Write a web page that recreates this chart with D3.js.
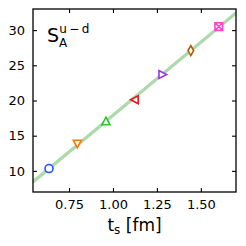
<!DOCTYPE html>
<html>
<head>
<meta charset="utf-8">
<script src="https://cdn.jsdelivr.net/npm/d3@7"></script>
<style>
body { margin:0; background:#fff; }
text { font-family: "DejaVu Sans", sans-serif; }
</style>
</head>
<body>
<div id="chart-area"></div>
<script>
// data
var ts = [0.636, 0.797, 0.960, 1.125, 1.280, 1.443, 1.602];
var sVal = [10.33, 13.9, 17.0, 20.1, 23.7, 27.1, 30.5];
var shapes = ["circle", "tri-down", "tri-up", "tri-left", "tri-right", "diamond", "xsquare"];
var colors = ["#1f4fff", "#ff7700", "#22cc22", "#ee1111", "#9933ee", "#b35a00", "#ff44cc"];
var fitX = [0.545, 1.70];
var fitY = [8.43, 32.45];
var xTicks = [0.75, 1.00, 1.25, 1.50];
var yTicks = [10, 15, 20, 25, 30];

var margin = { left:33, right:10, top:9, bottom:54 };
var width = 246 - margin.left - margin.right,
    height = 246 - margin.top - margin.bottom;

var svg = d3.select("#chart-area")
    .append("svg")
        .attr("width", 246)
        .attr("height", 246);
var g = svg.append("g")
        .attr("transform", "translate(" + margin.left + ", " + margin.top + ")");

var x = d3.scaleLinear()
    .range([0, width])
    .domain([0.545, 1.70]);
var y = d3.scaleLinear()
    .range([height, 0])
    .domain([7, 33]);

g.append("defs").append("clipPath").attr("id", "clip")
    .append("rect").attr("width", width).attr("height", height);

// fit band
g.append("line")
    .attr("clip-path", "url(#clip)")
    .attr("x1", x(fitX[0])).attr("y1", y(fitY[0]))
    .attr("x2", x(fitX[1])).attr("y2", y(fitY[1]))
    .attr("stroke", "#acdaac")
    .attr("stroke-width", 3.2);

// axes, ticks inward on all four sides
function styleAxis(sel) {
    sel.select(".domain").remove();
    sel.selectAll("line").attr("stroke", "#000").attr("stroke-width", 1.1);
    sel.selectAll("text").attr("font-size", "13px").attr("fill", "#000")
        .attr("font-family", "DejaVu Sans, sans-serif");
}
g.append("g").attr("transform", "translate(0," + height + ")")
    .call(d3.axisBottom(x).tickValues(xTicks).tickFormat(d3.format(".2f")).tickSizeInner(-4).tickPadding(8))
    .call(styleAxis);
g.append("g")
    .call(d3.axisTop(x).tickValues(xTicks).tickSizeInner(-4).tickFormat(""))
    .call(styleAxis);
g.append("g")
    .call(d3.axisLeft(y).tickValues(yTicks).tickSizeInner(-4).tickPadding(8))
    .call(styleAxis);
g.append("g").attr("transform", "translate(" + width + ",0)")
    .call(d3.axisRight(y).tickValues(yTicks).tickSizeInner(-4).tickFormat(""))
    .call(styleAxis);

g.append("rect")
    .attr("width", width).attr("height", height)
    .attr("fill", "none").attr("stroke", "#000").attr("stroke-width", 1.3);

// markers
function markerPath(s) {
    var r = 4;
    switch (s) {
        case "tri-down": return "M" + (-r) + "," + (-r*0.8) + "L" + r + "," + (-r*0.8) + "L0," + (r*1.1) + "Z";
        case "tri-up": return "M" + (-r) + "," + (r*0.8) + "L" + r + "," + (r*0.8) + "L0," + (-r*1.1) + "Z";
        case "tri-left": return "M" + (r*0.8) + "," + (-r) + "L" + (r*0.8) + "," + r + "L" + (-r*1.1) + ",0Z";
        case "tri-right": return "M" + (-r*0.8) + "," + (-r) + "L" + (-r*0.8) + "," + r + "L" + (r*1.1) + ",0Z";
        case "diamond": return "M0," + (-r*1.25) + "L" + (r*0.7) + ",0L0," + (r*1.25) + "L" + (-r*0.7) + ",0Z";
        case "xsquare": return "M-3.8,-3.8H3.8V3.8H-3.8Z M-3.8,-3.8L3.8,3.8 M3.8,-3.8L-3.8,3.8";
    }
    return null;
}

var pts = g.selectAll(".pt").data(ts).enter().append("g")
    .attr("class", "pt")
    .attr("transform", function(d, i){ return "translate(" + x(d) + "," + y(sVal[i]) + ")"; });

pts.each(function(d, i){
    var sel = d3.select(this);
    if (shapes[i] === "circle") {
        sel.append("circle").attr("r", 4)
            .attr("fill", "#fff").attr("stroke", colors[i]).attr("stroke-width", 1.6);
    } else {
        sel.append("path").attr("d", markerPath(shapes[i]))
            .attr("fill", "#fff").attr("stroke", colors[i]).attr("stroke-width", 1.6)
            .attr("stroke-linejoin", "miter");
    }
});

// label S_A^{u-d}
var lab = g.append("text").attr("x", 14).attr("y", 33).attr("fill", "#000");
lab.append("tspan").attr("font-size", "19px").text("S");
lab.append("tspan").attr("font-size", "12px").attr("dy", 5).text("A");
lab.append("tspan").attr("font-size", "12px").attr("dx", -8).attr("dy", -14).text("u\u2009\u2212\u2009d");

// x label
var xl = svg.append("text")
    .attr("x", margin.left + width / 2)
    .attr("y", 231)
    .attr("text-anchor", "middle")
    .attr("fill", "#000");
xl.append("tspan").attr("font-size", "17px").text("t");
xl.append("tspan").attr("font-size", "12px").attr("dy", 3).text("s");
xl.append("tspan").attr("font-size", "17px").attr("dy", -3).text(" [fm]");
</script>
</body>
</html>
